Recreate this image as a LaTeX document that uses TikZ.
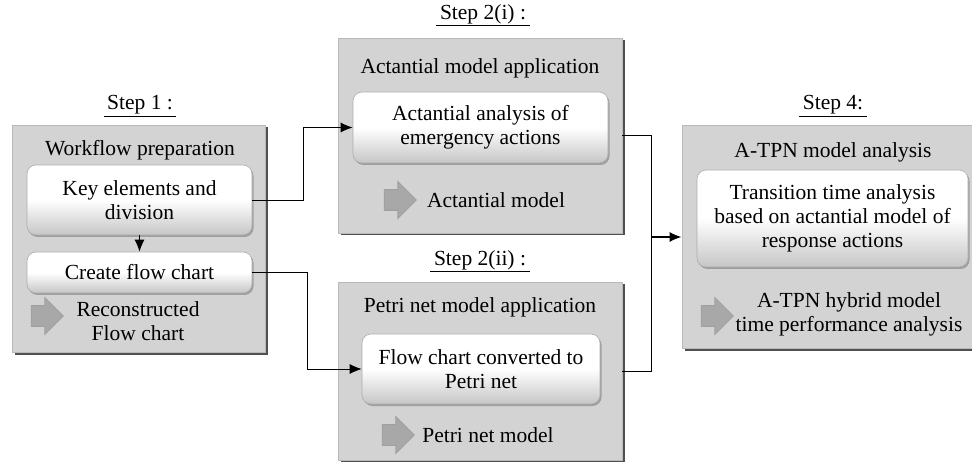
\documentclass[tikz,border=0pt]{standalone}
\usepackage{fontspec}
\setmainfont{Liberation Serif}
\usepackage{xcolor}
\usetikzlibrary{arrows.meta,shapes.arrows,shadows}
\definecolor{panelgray}{RGB}{211,211,211}
\definecolor{shadegray}{RGB}{80,80,80}
\definecolor{fatgray}{RGB}{168,168,168}
\tikzstyle{panel} = [rectangle, draw=gray!55, line width=0.8pt, fill=panelgray, inner sep=0pt,
  drop shadow={shadow xshift=2.5pt, shadow yshift=-2.5pt, fill=shadegray, opacity=1}]
\tikzstyle{task} = [rectangle, rounded corners=9pt, draw=gray!65, line width=0.6pt, inner sep=0pt,
  top color=white, bottom color=gray!45, middle color=white, align=center,
  drop shadow={shadow xshift=1.5pt, shadow yshift=-2pt, fill=gray!75, opacity=1}]
\tikzstyle{fatarrow} = [single arrow, draw=gray!75, line width=0.8pt, fill=fatgray,
  minimum height=32pt, single arrow head extend=8pt, inner xsep=0pt, inner ysep=10pt]
\tikzstyle{steplabel} = [inner sep=1pt]
\tikzstyle{flow} = [-{Latex[length=12pt,width=10pt]}]

\begin{document}
\begin{tikzpicture}[x=1pt,y=-1pt,line width=0.9pt,
  font=\fontsize{21.5}{24}\selectfont]
  \useasboundingbox (0,0) rectangle (972,462);
  % step panels
  \node[panel, minimum width=253pt, minimum height=227pt] (S_eins) at (138.5,238.5) {};
  \node[panel, minimum width=284pt, minimum height=195pt] (S_zwei_i) at (480,135.5) {};
  \node[panel, minimum width=284pt, minimum height=178pt] (S_zwei_ii) at (480,371) {};
  \node[panel, minimum width=294pt, minimum height=223pt] (S_vier) at (829,236.5) {};

  \node[steplabel] (L_eins) at (140,106) {\underline{\,Step 1 :\,}};
  \node[steplabel] (L_zwei_i) at (483,15) {\underline{\,Step 2(i) :\,}};
  \node[steplabel] (L_zwei_ii) at (480,261) {\underline{\,Step 2(ii) :\,}};
  \node[steplabel] (L_vier) at (833,106) {\underline{\,Step 4:\,}};

  \node (T_eins) at (140,150) {Workflow preparation};
  \node (T_zwei_i) at (480,68) {Actantial model application};
  \node (T_zwei_ii) at (480,307) {Petri net model application};
  \node (T_vier) at (833,152) {A-TPN model analysis};

  % inner tasks
  \node[task, minimum width=225pt, minimum height=70pt] (key) at (139.5,200) {Key elements and\\division};
  \node[task, minimum width=225pt, minimum height=41pt] (create) at (139.5,272.5) {Create flow chart};
  \node[task, minimum width=255pt, minimum height=71pt] (act) at (480.5,127.5) {Actantial analysis of\\emergency actions};
  \node[task, minimum width=238pt, minimum height=70pt] (petri) at (481,369) {Flow chart converted to\\Petri net};
  \node[task, minimum width=271pt, minimum height=97pt] (trans) at (832.5,218.5) {Transition time analysis\\based on actantial model of\\response actions};

  % outputs
  \node[fatarrow] (A_eins) at (42,316) {};
  \node[align=center] (O_eins) at (138,321) {Reconstructed\\Flow chart};
  \node[fatarrow] (A_zwei_i) at (395,200) {};
  \node (O_zwei_i) at (496,200) {Actantial model};
  \node[fatarrow] (A_zwei_ii) at (393,435) {};
  \node (O_zwei_ii) at (488,435) {Petri net model};
  \node[fatarrow] (A_vier) at (712,316) {};
  \node[align=center] (O_vier) at (849,314) {A-TPN hybrid model\\time performance analysis};

  \coordinate (merge) at (651,237);

  \draw[flow] (key) -- (create);
  \draw[flow] (key.east) -- ++(51,0) |- (act.west);
  \draw[flow] (create.east) -- ++(55,0) |- (petri.west);
  \draw (S_zwei_i.east) -| (merge);
  \draw (S_zwei_ii.east) -| (merge);
  \draw[flow, line width=1.4pt] (merge) -- (S_vier.west |- merge);
\end{tikzpicture}
\end{document}
